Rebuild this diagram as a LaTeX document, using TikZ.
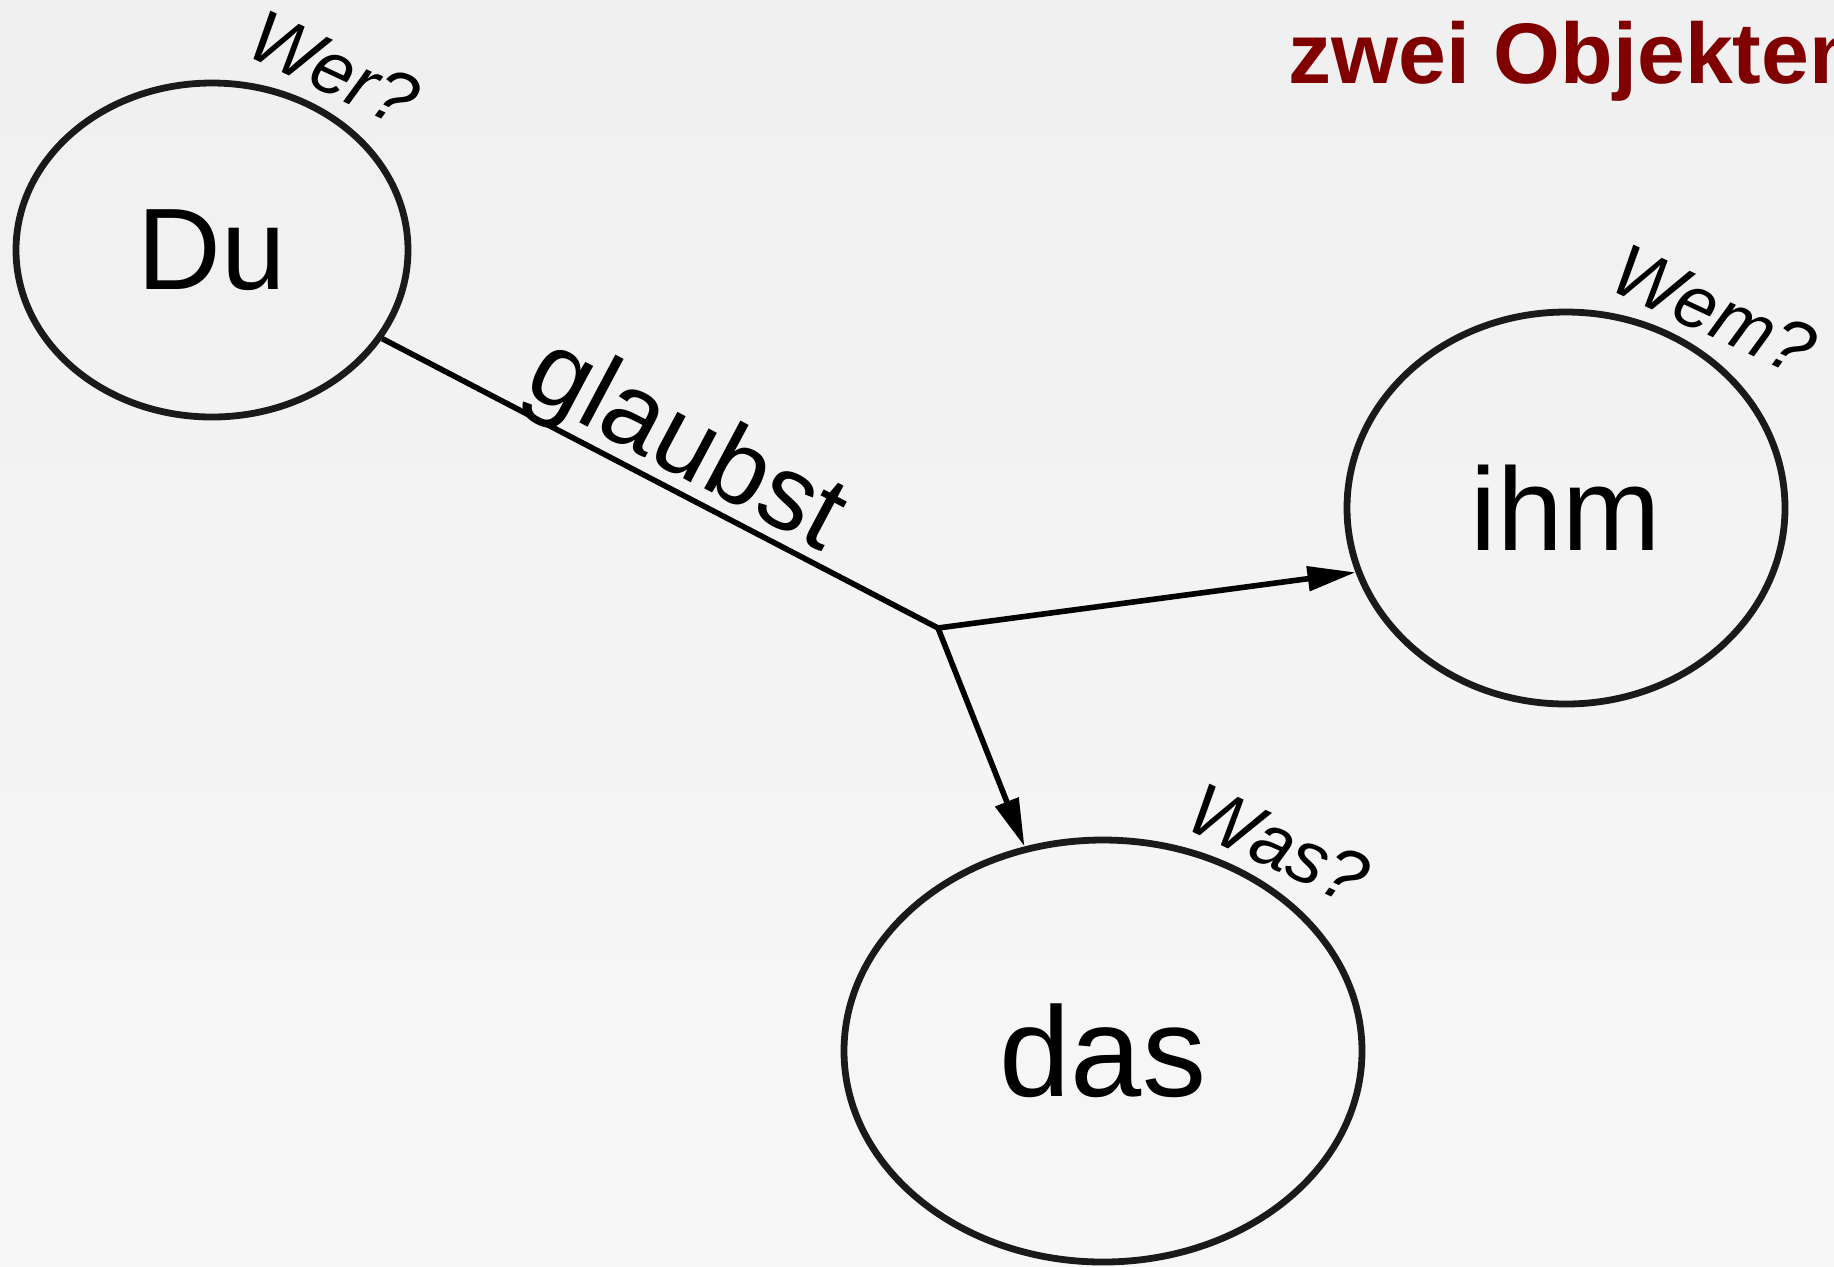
\documentclass[tikz,border=0pt]{standalone}
\usepackage{fontspec}
\setmainfont{Liberation Sans}
\usetikzlibrary{shapes.geometric,arrows.meta}
\definecolor{titelrot}{RGB}{128,0,0}
\definecolor{rand}{RGB}{26,26,26}
\begin{document}
\begin{tikzpicture}[x=0.5pt,y=-0.5pt,
            obj/.style = {ellipse, draw=rand, line width=3.4pt, inner sep=0pt},
            frage/.style = {anchor=base, font=\itshape\fontsize{37}{37}\selectfont},
            pfeil/.style = {line width=2.8pt, -{Triangle[length=24pt,width=12pt]}}]
            % Hintergrund
            \useasboundingbox (0,0) rectangle (1834,1266);
            \shade[top color=black!6, bottom color=black!3] (0,0) rectangle (1834,1266);
            % Titel
            \node[anchor=base west, text=titelrot, inner sep=0pt,
                font=\bfseries\fontsize{43}{43}\selectfont] (titel) at (1288,83) {zwei Objekten};
            % Subjekt
            \node[obj, minimum width=196pt, minimum height=167pt,
                font=\fontsize{58}{58}\selectfont] (du) at (212,250) {Du};
            % Dativobjekt
            \node[obj, minimum width=219pt, minimum height=196pt,
                font=\fontsize{59}{59}\selectfont] (ihm) at (1566,508) {ihm};
            % Akkusativobjekt
            \node[obj, minimum width=259pt, minimum height=211pt,
                font=\fontsize{64}{64}\selectfont] (das) at (1103,1051) {das};
            % Fragen
            \node[frage, rotate=-25] (wer) at (323,92) {Wer?};
            \node[frage, rotate=-25] (wem) at (1703,333) {Wem?};
            \node[frage, rotate=-25] (was) at (1268,867) {Was?};
            % Verb mit Verzweigung
            \coordinate (br) at (938,628);
            \draw[line width=2.8pt] (du) -- (br);
            \node[anchor=base, rotate=-28, font=\fontsize{53}{53}\selectfont] (verb) at (672,472) {glaubst};
            \draw[pfeil] (br) -- (ihm.197);
            \draw[pfeil] (br) -- (das.111);
        \end{tikzpicture}
\end{document}
